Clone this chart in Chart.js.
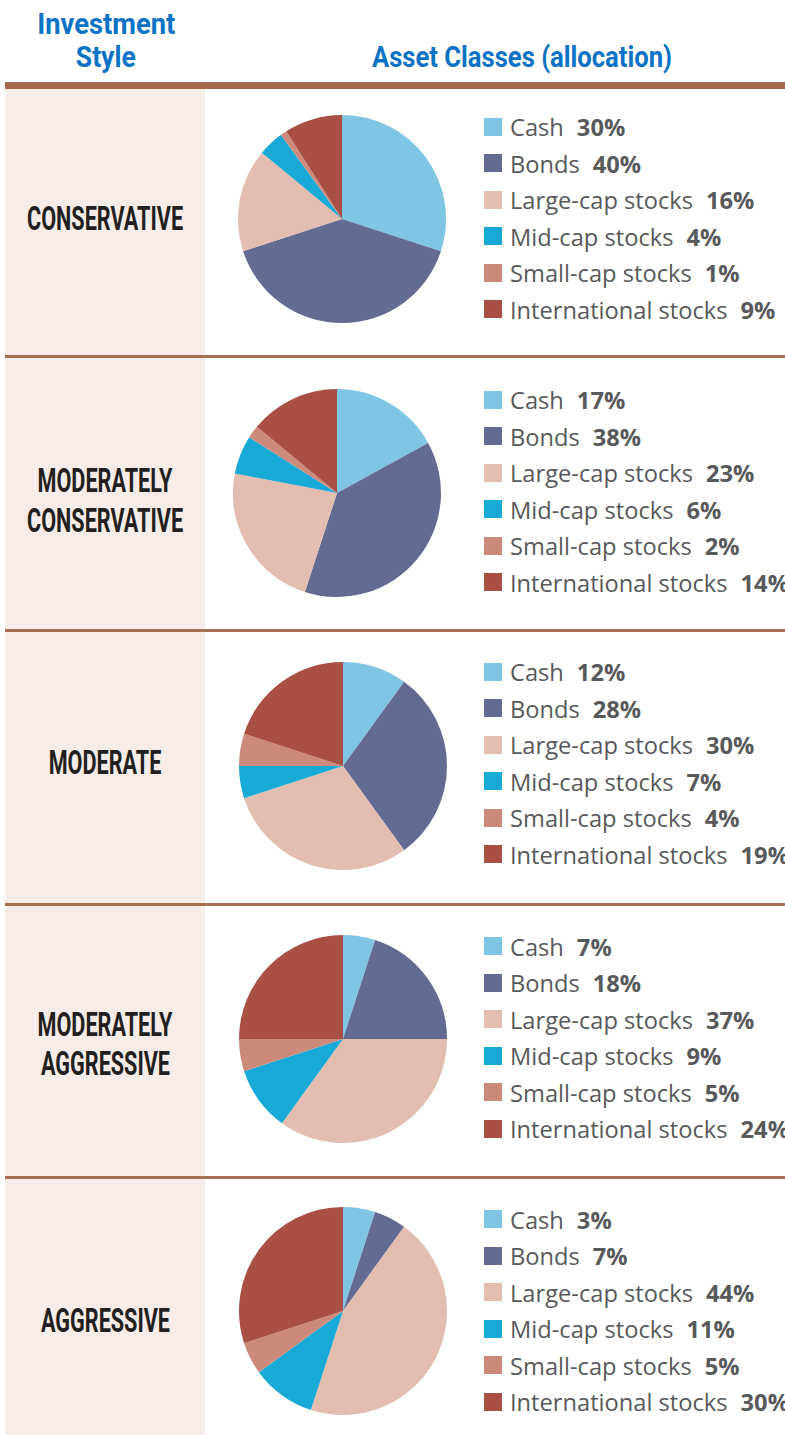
<!DOCTYPE html>
<html>
<head>
<meta charset="utf-8">
<script src="https://cdn.jsdelivr.net/npm/chart.js@4/dist/chart.umd.min.js"></script>
<style>
html,body{margin:0;padding:0;background:#fff;}
#page{position:relative;width:785px;height:1435px;overflow:hidden;background:#fff;}
.abs{position:absolute;}
.hdr{position:absolute;font-family:Roboto,"Open Sans",sans-serif;font-weight:700;color:#0b73c5;font-size:29px;line-height:1;white-space:nowrap;transform-origin:center center;}
.rowlab{position:absolute;font-family:Roboto,"Open Sans",sans-serif;font-weight:700;color:#231f20;font-size:33px;line-height:1;white-space:nowrap;transform-origin:center center;}
.leg{position:absolute;font-family:"Open Sans",sans-serif;font-size:23px;line-height:1;color:#58595b;white-space:nowrap;transform-origin:left center;}
.leg b{font-weight:700;margin-left:0.55em;color:#58595b;}
.sw{position:absolute;width:18px;height:18px;}
canvas{position:absolute;}
</style>
</head>
<body>
<div id="page"></div>
<script>
// ---------- data ----------
const assetClasses = ['Cash', 'Bonds', 'Large-cap stocks', 'Mid-cap stocks', 'Small-cap stocks', 'International stocks'];
const investmentStyles = [['CONSERVATIVE'], ['MODERATELY', 'CONSERVATIVE'], ['MODERATE'], ['MODERATELY', 'AGGRESSIVE'], ['AGGRESSIVE']];

// slice shares as drawn in the pies
const conservativeSlices = [30, 40, 16, 4, 1, 9];
const modConservativeSlices = [17, 38, 23, 6, 2, 14];
const moderateSlices = [10, 30, 30, 5, 5, 20];
const modAggressiveSlices = [5, 20, 35, 10, 5, 25];
const aggressiveSlices = [5, 5, 45, 10, 5, 30];

// percentages printed in the legends
const conservativePct = [30, 40, 16, 4, 1, 9];
const modConservativePct = [17, 38, 23, 6, 2, 14];
const moderatePct = [12, 28, 30, 7, 4, 19];
const modAggressivePct = [7, 18, 37, 9, 5, 24];
const aggressivePct = [3, 7, 44, 11, 5, 30];

const headerLeft = ['Investment', 'Style'];
const headerRight = 'Asset Classes (allocation)';

// ---------- styles / layout ----------
const assetColors = ['#7fc5e4', '#646b93', '#e2bdb0', '#18aad6', '#cd8a7b', '#aa4f43'];
const allSlices = [conservativeSlices, modConservativeSlices, moderateSlices, modAggressiveSlices, aggressiveSlices];
const allPct = [conservativePct, modConservativePct, moderatePct, modAggressivePct, aggressivePct];

const pieCX = [342, 337, 343, 343, 343];
const pieCY = [219, 493, 766, 1039, 1311];
const legendCY = [218, 491, 763, 1037.5, 1310.5];
const labelCY = [[218], [480, 520], [762], [1024, 1063], [1320]];
const separatorsY = [355, 629, 903, 1176];
const PIE_R = 104;
const LEG_STEP = 36.5;

const page = document.getElementById('page');
function box(x, y, w, h, color) {
  const d = document.createElement('div');
  d.className = 'abs';
  Object.assign(d.style, {left: x + 'px', top: y + 'px', width: w + 'px', height: h + 'px', background: color});
  page.appendChild(d);
  return d;
}
const mctx = document.createElement('canvas').getContext('2d');
function textW(font, s) { mctx.font = font; return mctx.measureText(s).width; }

// background column and rules
box(5, 89, 200, 1346, '#f8ece8');
box(5, 82, 780, 7, '#a4694a');
separatorsY.forEach(y => box(5, y, 780, 3, '#a87052'));

function centeredText(cls, txt, cx, cy, scale) {
  const d = document.createElement('div');
  d.className = cls;
  d.textContent = txt;
  page.appendChild(d);
  const w = d.offsetWidth, h = d.offsetHeight;
  d.style.left = (cx - w / 2) + 'px';
  d.style.top = (cy - h / 2) + 'px';
  d.style.transform = 'scaleX(' + scale + ')';
  return d;
}
// headers (each fitted to its measured width)
const hdrFont = '700 29px Roboto';
centeredText('hdr', headerLeft[0], 106, 24, 138 / textW(hdrFont, headerLeft[0]));
centeredText('hdr', headerLeft[1], 106, 57, 60 / textW(hdrFont, headerLeft[1]));
centeredText('hdr', headerRight, 522, 57, 300 / textW(hdrFont, headerRight));

// row labels
const labFont = '700 33px Roboto';
const labScale = 156 / textW(labFont, 'CONSERVATIVE');
investmentStyles.forEach((lines, i) => {
  lines.forEach((t, j) => centeredText('rowlab', t, 105, labelCY[i][j], labScale));
});

// legends
const legFont = '400 23px "Open Sans"';
const legScale = 183 / textW(legFont, 'Large-cap stocks');
allPct.forEach((pcts, i) => {
  assetClasses.forEach((name, k) => {
    const cy = legendCY[i] + (k - 2.5) * LEG_STEP;
    const sw = document.createElement('div');
    sw.className = 'sw';
    sw.style.left = '484px';
    sw.style.top = (cy - 9) + 'px';
    sw.style.background = assetColors[k];
    page.appendChild(sw);
    const d = document.createElement('div');
    d.className = 'leg';
    d.appendChild(document.createTextNode(name));
    const b = document.createElement('b');
    b.textContent = pcts[k] + '%';
    d.appendChild(b);
    page.appendChild(d);
    const h = d.offsetHeight;
    d.style.left = '510px';
    d.style.top = (cy - h / 2 + 1) + 'px';
    d.style.transform = 'scaleX(' + legScale + ')';
  });
});

// pies
allSlices.forEach((vals, i) => {
  const size = 2 * PIE_R + 8;
  const c = document.createElement('canvas');
  c.width = size; c.height = size;
  c.style.width = size + 'px'; c.style.height = size + 'px';
  c.style.left = (pieCX[i] - size / 2) + 'px';
  c.style.top = (pieCY[i] - size / 2) + 'px';
  page.appendChild(c);
  new Chart(c, {
    type: 'pie',
    data: {
      labels: assetClasses,
      datasets: [{data: vals, backgroundColor: assetColors, borderWidth: 0}]
    },
    options: {
      responsive: false,
      animation: false,
      devicePixelRatio: 1,
      layout: {padding: 4},
      plugins: {legend: {display: false}, tooltip: {enabled: false}}
    }
  });
});
</script>
</body>
</html>
